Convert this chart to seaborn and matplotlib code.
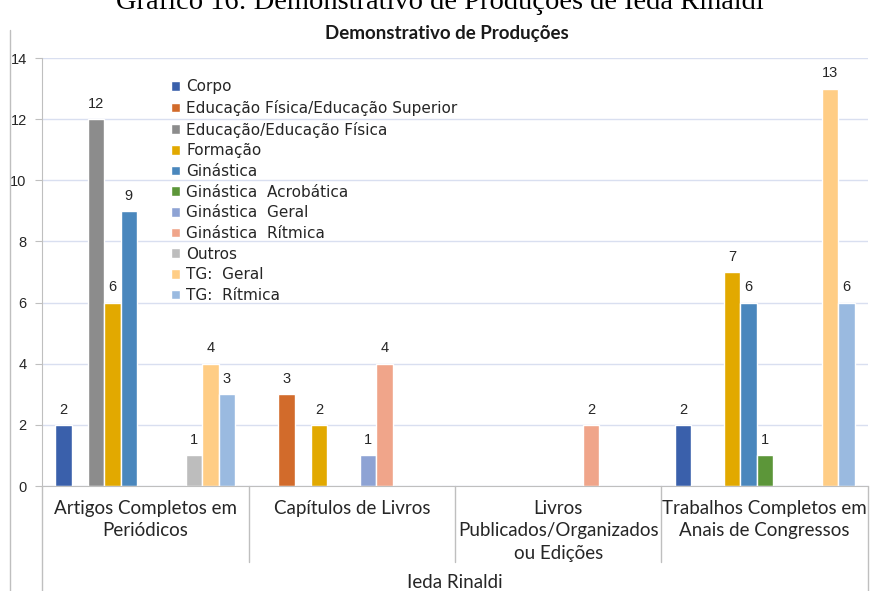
import matplotlib
matplotlib.use('Agg')
import matplotlib.pyplot as plt
import seaborn as sns
import pandas as pd
from matplotlib.lines import Line2D

# --- Data ---
categorias = [
    "Artigos Completos em\nPeriódicos",
    "Capítulos de Livros",
    "Livros\nPublicados/Organizados\nou Edições",
    "Trabalhos Completos em\nAnais de Congressos",
]
series = [
    "Corpo",
    "Educação Física/Educação Superior",
    "Educação/Educação Física",
    "Formação",
    "Ginástica",
    "Ginástica  Acrobática",
    "Ginástica  Geral",
    "Ginástica  Rítmica",
    "Outros",
    "TG:  Geral",
    "TG:  Rítmica",
]
corpo          = [2, 0, 0, 2]
edfis_edsup    = [0, 3, 0, 0]
ed_edfis       = [12, 0, 0, 0]
formacao       = [6, 2, 0, 7]
ginastica      = [9, 0, 0, 6]
gin_acrobatica = [0, 0, 0, 1]
gin_geral      = [0, 1, 0, 0]
gin_ritmica    = [0, 4, 2, 0]
outros         = [1, 0, 0, 0]
tg_geral       = [4, 0, 0, 13]
tg_ritmica     = [3, 0, 0, 6]

valores = [corpo, edfis_edsup, ed_edfis, formacao, ginastica, gin_acrobatica,
           gin_geral, gin_ritmica, outros, tg_geral, tg_ritmica]
cores = ["#3a60ab", "#d26b2b", "#8c8c8c", "#e2a900", "#4a87bd", "#5c9639",
         "#8ea3d4", "#f0a58a", "#bdbdbd", "#ffcd85", "#9abae0"]

rows = []
for s, vals in zip(series, valores):
    for c, v in zip(categorias, vals):
        rows.append({"categoria": c, "serie": s, "valor": v})
df = pd.DataFrame(rows)

# --- Figure ---
sns.set_style("white")
plt.rcParams['font.family'] = ['Liberation Sans', 'DejaVu Sans']

W, H = 874, 591
fig = plt.figure(figsize=(W / 100, H / 100), dpi=100)
ax = fig.add_axes([42 / W, 1 - 486 / H, (868 - 42) / W, (486 - 58) / H])

sns.barplot(data=df, x="categoria", y="valor", hue="serie",
            order=categorias, hue_order=series,
            palette=dict(zip(series, cores)), width=0.87, saturation=1,
            ax=ax, errorbar=None)

for cont in ax.containers:
    labels = [str(int(v)) if v > 0 else "" for v in cont.datavalues]
    ax.bar_label(cont, labels=labels, padding=6, fontsize=10.5, color="#262626")

ax.set_ylim(0, 14)
ax.set_yticks(range(0, 15, 2))
ax.set_xlim(-0.5, 3.5)
ax.yaxis.grid(True, color="#d9dff0", linewidth=1)
ax.set_axisbelow(True)
ax.set_xlabel("")
ax.set_ylabel("")
for sp in ["top", "right"]:
    ax.spines[sp].set_visible(False)
ax.spines["left"].set_color("#bfbfbf")
ax.spines["bottom"].set_color("#bfbfbf")
ax.tick_params(axis="y", left=True, length=5, color="#bfbfbf", pad=6,
               labelsize=10.5, labelcolor="#262626")
ax.tick_params(axis="x", length=0, pad=10)
ax.set_xticks(range(len(categorias)))
ax.set_xticklabels(categorias, fontsize=13.5, family="Lato", color="#262626",
                   linespacing=1.38)

leg = ax.legend(loc="upper left", bbox_to_anchor=(0.147, 0.968), frameon=False,
                prop={"family": "DejaVu Sans", "size": 11},
                handlelength=0.6, handleheight=0.6,
                handletextpad=0.4, labelspacing=0.37, borderpad=0)
for t in leg.get_texts():
    t.set_color("#262626")

# multi-level axis lines
tr = ax.get_xaxis_transform()
ax.plot([-0.5, -0.5], [0, -(591 - 486) / 428], transform=tr, color="#bfbfbf",
        lw=1, clip_on=False)
for xb in [0.5, 1.5, 2.5]:
    ax.plot([xb, xb], [0, -(562 - 486) / 428], transform=tr, color="#bfbfbf",
            lw=1, clip_on=False)
ax.plot([3.5, 3.5], [0, -(591 - 486) / 428], transform=tr, color="#bfbfbf",
        lw=1, clip_on=False)

# chart frame at left
fig.add_artist(Line2D([10 / W, 10 / W], [0, 1 - 30 / H], color="#bfbfbf", lw=1))

fig.text(455 / W, 1 - 583 / H, "Ieda Rinaldi", ha="center", va="center",
         fontsize=13.5, family="Lato", color="#262626")
fig.text(447 / W, 1 - 34 / H, "Demonstrativo de Produções", ha="center",
         va="center", fontsize=13.5, fontweight="bold", family="Lato",
         color="#1a1a1a")
fig.text(440 / W, 1 - 9 / H, "Gráfico 16: Demonstrativo de Produções de Ieda Rinaldi",
         ha="center", va="baseline", fontsize=20.5, family="Liberation Serif",
         color="black")

fig.savefig("out.png", dpi=100)
